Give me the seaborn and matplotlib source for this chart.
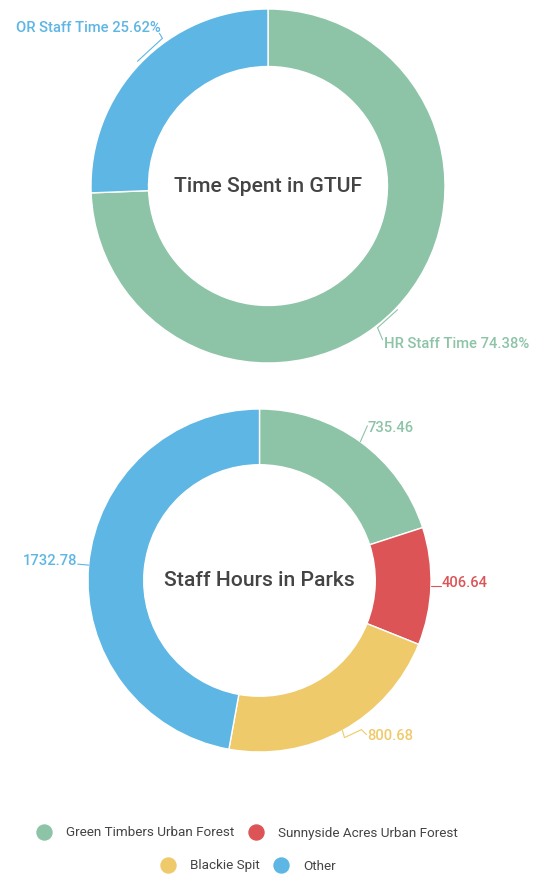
import numpy as np
import matplotlib
matplotlib.use("Agg")
import matplotlib.pyplot as plt
from matplotlib.lines import Line2D
import seaborn as sns

# ---- data ----
gtuf_labels = ["HR Staff Time", "OR Staff Time"]
gtuf_values = [74.38, 25.62]
park_labels = ["Green Timbers Urban Forest", "Sunnyside Acres Urban Forest", "Blackie Spit", "Other"]
park_hours = [735.46, 406.64, 800.68, 1732.78]

GREEN, RED, YELLOW, BLUE = "#8DC4A7", "#DD5457", "#EFCA6A", "#5EB6E4"
gtuf_colors = [GREEN, BLUE]
park_colors = [GREEN, RED, YELLOW, BLUE]

sns.set_theme(style="white")
plt.rcParams['font.family'] = ['Roboto', 'DejaVu Sans']

W, H = 538, 875
fig = plt.figure(figsize=(W / 100, H / 100), dpi=100)
ax = fig.add_axes([0, 0, 1, 1])

def donut(cx, cy, r, values, colors):
    ax.pie(values, colors=colors, startangle=-90, counterclock=True,
           radius=r, center=(cx, cy),
           wedgeprops=dict(width=r * 0.325, edgecolor="white", linewidth=1))

def anchor(cx, cy, r, values, i):
    v = np.asarray(values, float)
    frac = (v[:i].sum() + v[i] / 2) / v.sum()
    th = 2 * np.pi * frac
    return cx + r * np.sin(th), cy - r * np.cos(th)

def callout(cx, cy, r, values, i, path, toff, text, color, ha, fs=10.6):
    ax0, ay0 = anchor(cx, cy, r, values, i)
    xs = [ax0 + p[0] for p in path]
    ys = [ay0 + p[1] for p in path]
    ax.plot(xs, ys, color=color, lw=0.8, solid_joinstyle="miter")
    ax.text(ax0 + toff[0], ay0 + toff[1], text, color=color, fontsize=fs,
            fontweight="medium", ha=ha, va="center")

# top donut
c1 = (268, 186, 177)
donut(*c1, gtuf_values, gtuf_colors)
callout(*c1, gtuf_values, 0, [(2, 1), (-18, 19), (-13, 31)], (-12, 35),
        f"{gtuf_labels[0]} {gtuf_values[0]:.2f}%", GREEN, "left")
callout(*c1, gtuf_values, 1, [(-3, -2), (22, -25), (19, -30)], (20, -35),
        f"{gtuf_labels[1]} {gtuf_values[1]:.2f}%", BLUE, "right")
ax.text(c1[0], c1[1], "Time Spent in GTUF", fontsize=15.2, fontweight="medium",
        color="#444444", ha="center", va="center")

# bottom donut
c2 = (259.5, 580.5, 171.5)
donut(*c2, park_hours, park_colors)
paths = [
    ([(0, 0), (7, -16)], (7, -14), "left"),
    ([(0, 0), (10, 0)], (11, -3), "left"),
    ([(0, 0), (2, 7), (19, -1), (24, 4)], (25, 5), "left"),
    ([(0, 0), (-11, -1)], (-11, -4), "right"),
]
for i, (p, t, ha) in enumerate(paths):
    callout(*c2, park_hours, i, p, t, f"{park_hours[i]:.2f}", park_colors[i], ha)
ax.text(c2[0], c2[1], "Staff Hours in Parks", fontsize=15.2, fontweight="medium",
        color="#444444", ha="center", va="center")

ax.set_xlim(0, W)
ax.set_ylim(H, 0)
ax.set_aspect("equal")
ax.axis("off")

def mk(c):
    return Line2D([], [], marker="o", linestyle="none", markersize=10.8,
                  markerfacecolor=c, markeredgecolor=c)

common = dict(frameon=False, handlelength=1.15, handletextpad=1.05,
              columnspacing=1.0, borderpad=0, labelcolor="#444444", loc="center",
              prop=dict(size=9.7, weight="normal"))
fig.legend([mk(park_colors[0]), mk(park_colors[1])], park_labels[:2], ncol=2,
           bbox_to_anchor=(247 / W, 1 - 833 / H), **common)
fig.legend([mk(park_colors[2]), mk(park_colors[3])], park_labels[2:], ncol=2,
           bbox_to_anchor=(248 / W, 1 - 866 / H), **common)

fig.savefig("out.png", dpi=100, facecolor="white")
